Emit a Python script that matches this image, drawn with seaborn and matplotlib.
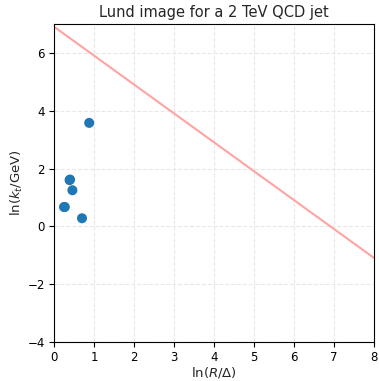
import numpy as np
import pandas as pd
import matplotlib
matplotlib.use("Agg")
import matplotlib.pyplot as plt
import seaborn as sns

# Emissions (Lund plane coordinates)
ln_R_over_Delta = [0.88, 0.40, 0.46, 0.27, 0.70, 0.25, 0.39]
ln_kt = [3.58, 1.62, 1.25, 0.67, 0.28, 0.67, 1.60]

# Kinematic boundary line: ln kt = ln(1000) - ln(R/Delta)
boundary_x = [0, 8]
boundary_intercept = np.log(1000.0)

x_ticks = [0, 1, 2, 3, 4, 5, 6, 7, 8]
y_ticks = [-4, -2, 0, 2, 4, 6]

sns.set_style("ticks")
plt.rcParams['font.family'] = ['DejaVu Sans']

fig = plt.figure(figsize=(3.79, 3.81), dpi=100)
ax = fig.add_axes([54/379, 1 - 342/381, 320/379, 318/381])

bx = np.array(boundary_x, dtype=float)
line_df = pd.DataFrame({"x": bx, "y": boundary_intercept - bx})
sns.lineplot(data=line_df, x="x", y="y", ax=ax, color="#ffa3a3", lw=1.5, zorder=2)

df = pd.DataFrame({"x": ln_R_over_Delta, "y": ln_kt})
sns.scatterplot(data=df, x="x", y="y", ax=ax, color="#1f77b4", s=52,
                edgecolor="none", zorder=3)

ax.set_xlim(0, 8)
ax.set_ylim(-4, 7)
ax.set_xticks(x_ticks)
ax.set_yticks(y_ticks)
ax.grid(True, linestyle="--", color="#e8e8e8", lw=0.8, zorder=0)
ax.set_axisbelow(True)
for s in ax.spines.values():
    s.set_color("black")
    s.set_linewidth(0.8)
ax.tick_params(labelsize=8.5, colors="black", length=3.5, width=0.8, pad=3)
ax.set_xlabel(r"$\ln(R/\Delta)$", fontsize=9.5, labelpad=1)
ax.set_ylabel(r"$\ln(k_t/\mathrm{GeV})$", fontsize=9.5, labelpad=2)
ax.set_title("Lund image for a 2 TeV QCD jet", fontsize=10.5, pad=5)

fig.savefig("out.png", dpi=100)
